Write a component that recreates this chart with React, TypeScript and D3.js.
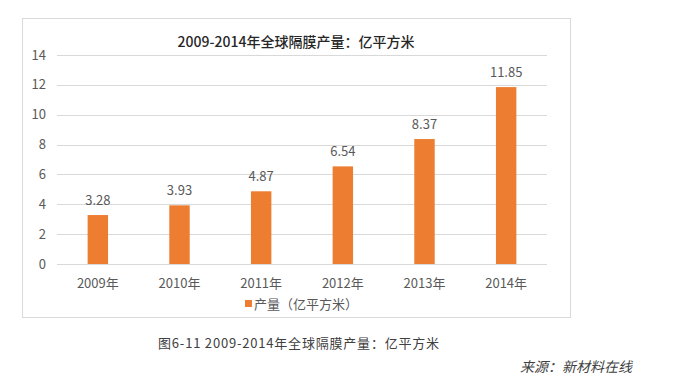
import * as d3 from "d3";

const years = ["2009年", "2010年", "2011年", "2012年", "2013年", "2014年"];
const output = [3.28, 3.93, 4.87, 6.54, 8.37, 11.85];
const yTicks = [0, 2, 4, 6, 8, 10, 12, 14];

const chartTitle = "2009-2014年全球隔膜产量：亿平方米";
const legendLabel = "产量（亿平方米）";
const caption = "图6-11 2009-2014年全球隔膜产量：亿平方米";
const source = "来源：新材料在线";

const fullWidth = 685;
const fullHeight = 387;
const frame = { x: 22, y: 18, w: 548, h: 299 };
const plotLeft = 57;
const plotRight = 547;
const plotTop = 55;
const plotBottom = 264;

const barColor = "#ED7D31";
const textColor = "#595959";
const font = "'Noto Sans CJK SC', 'Noto Sans', sans-serif";

export default function App() {
  const xScale = d3
    .scaleBand()
    .domain(years)
    .range([plotLeft, plotRight])
    .paddingInner(0.75)
    .paddingOuter(0.375);

  const yScale = d3.scaleLinear().domain([0, 14]).range([plotBottom, plotTop]);

  const frameCenter = frame.x + frame.w / 2;

  return (
    <svg
      width={fullWidth}
      height={fullHeight}
      style={{ position: "absolute", left: 0, top: 0, background: "#fff" }}
      fontFamily={font}
    >
      <rect
        x={frame.x + 0.5}
        y={frame.y + 0.5}
        width={frame.w}
        height={frame.h}
        fill="#fff"
        stroke="#d9d9d9"
      />
      <text
        x={frameCenter}
        y={47}
        textAnchor="middle"
        fontSize={14}
        fill="#262626"
        fontWeight={500}
      >
        {chartTitle}
      </text>

      {/* gridlines + y labels */}
      {yTicks.map((t) => (
        <g key={t}>
          <line
            x1={plotLeft}
            x2={plotRight}
            y1={Math.round(yScale(t)) + 0.5}
            y2={Math.round(yScale(t)) + 0.5}
            stroke="#d9d9d9"
          />
          <text
            x={46}
            y={yScale(t) + 4.5}
            textAnchor="end"
            fontSize={13}
            fill={textColor}
          >
            {t}
          </text>
        </g>
      ))}

      {/* bars */}
      {years.map((yr, i) => (
        <g key={yr}>
          <rect
            x={xScale(yr)}
            y={yScale(output[i])}
            width={xScale.bandwidth()}
            height={plotBottom - yScale(output[i])}
            fill={barColor}
          />
          <text
            x={xScale(yr)! + xScale.bandwidth() / 2}
            y={yScale(output[i]) - 10}
            textAnchor="middle"
            fontSize={13}
            fill={textColor}
          >
            {output[i].toFixed(2)}
          </text>
          <text
            x={xScale(yr)! + xScale.bandwidth() / 2}
            y={288}
            textAnchor="middle"
            fontSize={13}
            fill={textColor}
          >
            {yr}
          </text>
        </g>
      ))}

      {/* legend */}
      <rect x={245} y={300} width={7} height={7} fill={barColor} />
      <text x={254} y={308.5} fontSize={13} fill={textColor}>
        {legendLabel}
      </text>

      {/* caption and source */}
      <text x={158} y={348} fontSize={13} fill="#404040" letterSpacing={0.8}>
        {caption}
      </text>
      <text x={520} y={372} fontSize={14} fill="#404040" fontStyle="italic">
        {source}
      </text>
    </svg>
  );
}
